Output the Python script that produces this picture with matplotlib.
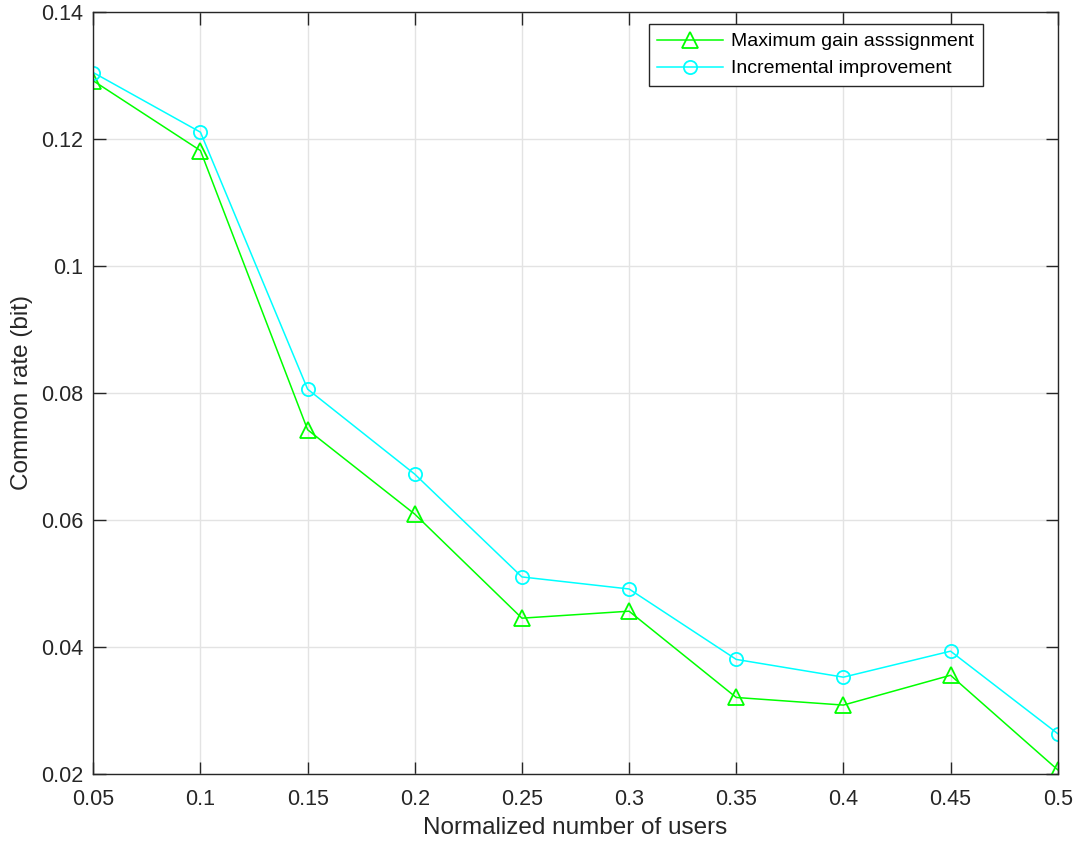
import numpy as np
import matplotlib.pyplot as plt

plt.rcParams['font.family'] = ['Liberation Sans', 'DejaVu Sans']

# Normalized number of users and common rate for each assignment scheme
users = [0.05, 0.1, 0.15, 0.2, 0.25, 0.3, 0.35, 0.4, 0.45, 0.5]
max_gain = [0.1292, 0.1182, 0.0742, 0.0609, 0.0445, 0.0456, 0.0320, 0.0308, 0.0355, 0.0206]
incremental = [0.1305, 0.1211, 0.0806, 0.0672, 0.0510, 0.0491, 0.0380, 0.0352, 0.0393, 0.0263]

x_ticks = [0.05, 0.1, 0.15, 0.2, 0.25, 0.3, 0.35, 0.4, 0.45, 0.5]
x_tick_labels = ['0.05', '0.1', '0.15', '0.2', '0.25', '0.3', '0.35', '0.4', '0.45', '0.5']
y_ticks = [0.02, 0.04, 0.06, 0.08, 0.1, 0.12, 0.14]
y_tick_labels = ['0.02', '0.04', '0.06', '0.08', '0.1', '0.12', '0.14']

fig = plt.figure(figsize=(10.79, 8.47), dpi=100)
ax = fig.add_axes([93.3 / 1079, 1 - 773.6 / 847, (1057.7 - 93.3) / 1079, (773.6 - 12.3) / 847])

ax.plot(users, max_gain, color='#00ff00', lw=1.1, marker='^', ms=11,
        mfc='none', mec='#00ff00', mew=1.3, label='Maximum gain asssignment')
ax.plot(users, incremental, color='#00ffff', lw=1.1, marker='o', ms=9.5,
        mfc='none', mec='#00ffff', mew=1.3, label='Incremental improvement')

ax.set_xlim(0.05, 0.5)
ax.set_ylim(0.02, 0.14)
ax.set_xticks(x_ticks)
ax.set_xticklabels(x_tick_labels)
ax.set_yticks(y_ticks)
ax.set_yticklabels(y_tick_labels)

ax.grid(True, color='#e3e3e3', lw=1.0)
ax.set_axisbelow(True)
for sp in ax.spines.values():
    sp.set_color('#262626')
    sp.set_linewidth(1.0)
ax.tick_params(direction='in', length=9, width=1.0, colors='#262626',
               labelsize=15.5, top=True, right=True)
ax.tick_params(axis='x', pad=11)
ax.tick_params(axis='y', pad=7)

ax.set_xlabel('Normalized number of users', fontsize=17.5, color='#262626', labelpad=5)
ax.set_ylabel('Common rate (bit)', fontsize=17.5, color='#262626', labelpad=6)

leg = ax.legend(loc='upper right', bbox_to_anchor=(0.9225, 0.9846), borderaxespad=0,
                fontsize=14, fancybox=False, framealpha=1, edgecolor='#262626',
                handlelength=3.4, borderpad=0.45, labelspacing=0.48, handletextpad=0.4)
leg.get_frame().set_linewidth(1.0)

fig.savefig('out.png', dpi=100)
